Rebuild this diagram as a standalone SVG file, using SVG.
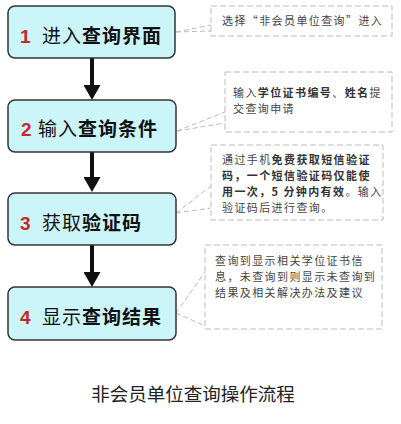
<svg xmlns="http://www.w3.org/2000/svg" width="401" height="424" viewBox="0 0 401 424">
<style>
.box{fill:#ccf5f9;stroke:#333;stroke-width:1.5}
.num{font-family:"Liberation Sans",Arial,sans-serif;font-weight:bold;font-size:19px;fill:#c8262a}
.lbl{font-family:"Noto Sans CJK SC","Noto Sans",sans-serif;font-size:19px;fill:#111;letter-spacing:1px}
.b{font-weight:bold}
.note{fill:#fff;stroke:#bbb;stroke-width:1;stroke-dasharray:6 3}
.nt{font-family:"Noto Sans CJK SC","Noto Sans",sans-serif;font-size:11px;letter-spacing:1.4px;fill:#444}
.nb{font-weight:bold;fill:#333}
.conn{stroke:#bbb;stroke-width:1;stroke-dasharray:5 3;fill:none}
.arr{stroke:#111;stroke-width:4;fill:none}
.title{font-family:"Noto Sans CJK SC","Noto Sans",sans-serif;font-size:18.5px;fill:#222}
</style>
<defs>
<marker id="ah" markerUnits="userSpaceOnUse" viewBox="0 0 15 17" markerWidth="15" markerHeight="17" refX="0" refY="8.5" orient="auto">
<path d="M0,0 L15,8.5 L0,17 Z" fill="#111"/>
</marker>
</defs>
<rect width="401" height="424" fill="#fff"/>

<g id="connectors">
<line class="arr" x1="92" y1="58" x2="92" y2="85" marker-end="url(#ah)"/>
<line class="arr" x1="92" y1="152" x2="92" y2="177" marker-end="url(#ah)"/>
<line class="arr" x1="92" y1="245" x2="92" y2="272" marker-end="url(#ah)"/>
<path class="conn" d="M176,32 L211,25 M176,32 L211,31"/>
<path class="conn" d="M177,131 L225,112 M177,131 L225,123"/>
<path class="conn" d="M176,213 L211,186 M176,213 L211,208"/>
<path class="conn" d="M176,313 L205,272 M176,313 L205,326"/>
</g>

<g id="step1">
<rect class="box" x="8" y="6" width="167" height="52" rx="7"/>
<text class="num" x="20" y="43">1</text>
<text class="lbl" x="42" y="43">进入<tspan class="b">查询界面</tspan></text>
</g>
<g id="step2">
<rect class="box" x="8" y="100" width="168" height="52" rx="7"/>
<text class="num" x="21" y="136">2</text>
<text class="lbl" x="38" y="136">输入<tspan class="b">查询条件</tspan></text>
</g>
<g id="step3">
<rect class="box" x="8" y="193" width="168" height="52" rx="7"/>
<text class="num" x="20" y="229.5">3</text>
<text class="lbl" x="42" y="229.5">获取<tspan class="b">验证码</tspan></text>
</g>
<g id="step4">
<rect class="box" x="8" y="287" width="168" height="53" rx="7"/>
<text class="num" x="20" y="324">4</text>
<text class="lbl" x="42" y="324">显示<tspan class="b">查询结果</tspan></text>
</g>

<g id="note1">
<rect class="note" x="211" y="6" width="181" height="30"/>
<text class="nt" x="222" y="25">选择“非会员单位查询”进入</text>
</g>
<g id="note2">
<rect class="note" x="225" y="72" width="167" height="60"/>
<text class="nt" x="233" y="97">输入<tspan class="nb">学位证书编号</tspan>、<tspan class="nb">姓名</tspan>提</text>
<text class="nt" x="233" y="113">交查询申请</text>
</g>
<g id="note3">
<rect class="note" x="211" y="145" width="172" height="75"/>
<text class="nt" x="222" y="164">通过手机<tspan class="nb">免费获取短信验证</tspan></text>
<text class="nt" x="222" y="180"><tspan class="nb">码，一个短信验证码仅能使</tspan></text>
<text class="nt" x="222" y="196"><tspan class="nb">用一次，5 分钟内有效</tspan>。输入</text>
<text class="nt" x="222" y="212">验证码后进行查询。</text>
</g>
<g id="note4">
<rect class="note" x="205" y="245" width="177" height="84"/>
<text class="nt" x="215" y="265">查询到显示相关学位证书信</text>
<text class="nt" x="215" y="281">息，未查询到则显示未查询到</text>
<text class="nt" x="215" y="297">结果及相关解决办法及建议</text>
</g>

<text class="title" x="193" y="401" text-anchor="middle">非会员单位查询操作流程</text>
</svg>
